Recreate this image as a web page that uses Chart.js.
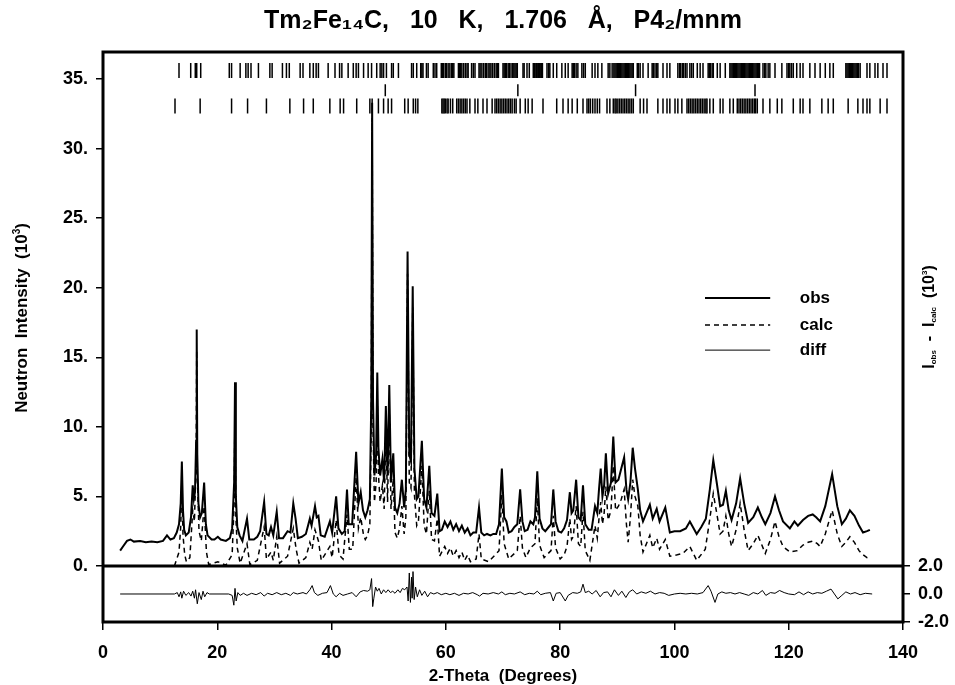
<!DOCTYPE html>
<html>
<head>
<meta charset="utf-8">
<title>Tm2Fe14C neutron pattern</title>
<script src="https://cdn.jsdelivr.net/npm/chart.js@4.4.1/dist/chart.umd.min.js"></script>
<style>
  html, body { margin: 0; padding: 0; background: #fff; }
  #wrap { width: 955px; height: 685px; }
</style>
</head>
<body>
<div id="wrap"><canvas id="pattern"></canvas></div>
<script>
// [2-theta, intensity (10^3)]
const obsPoints = [
  [3.0,1.1],[3.5,1.4],[4.2,1.8],[4.8,1.9],[5.4,1.75],[6.5,1.8],[7.5,1.7],[8.5,1.75],[9.5,1.7],[10.5,1.8],
  [11.2,2.2],[11.8,1.9],[12.4,2.0],[12.9,2.4],[13.3,3.0],[13.6,4.5],[13.8,7.5],[14.0,4.0],[14.2,2.6],[14.5,2.2],
  [15.0,2.4],[15.4,3.5],[15.7,5.8],[15.9,4.8],[16.1,5.3],[16.3,9.0],[16.4,17.0],[16.5,8.0],[16.7,4.5],[17.0,3.5],
  [17.3,3.8],[17.7,6.0],[18.0,3.0],[18.3,2.2],[19.0,1.9],[19.5,1.9],[20.1,2.1],[20.6,1.9],[21.5,1.8],[22.2,2.0],
  [22.6,2.7],[22.95,6.0],[23.1,13.2],[23.25,5.0],[23.5,2.8],[23.9,2.2],[24.4,1.8],[25.2,3.4],[25.6,1.9],[26.4,1.9],
  [27.0,2.1],[27.5,2.5],[28.2,4.6],[28.6,2.3],[29.0,2.2],[29.4,2.8],[29.8,2.2],[30.4,3.9],[30.8,2.0],[31.5,2.0],
  [32.3,2.5],[32.8,2.4],[33.3,4.5],[33.7,3.4],[34.1,2.0],[34.8,2.1],[35.5,2.3],[36.2,3.4],[36.5,2.9],[37.1,4.3],
  [37.4,3.5],[37.7,3.6],[38.1,2.2],[38.8,2.1],[39.7,3.2],[40.1,2.4],[40.8,5.0],[41.2,2.7],[41.8,2.3],[42.3,2.5],
  [42.7,5.5],[43.0,3.0],[43.6,3.0],[44.3,8.2],[44.7,4.5],[45.1,5.3],[45.5,4.0],[45.9,3.5],[46.3,4.0],[46.7,4.8],
  [46.95,12.0],[47.1,33.3],[47.25,12.0],[47.5,6.5],[47.8,8.0],[48.0,13.9],[48.2,8.5],[48.5,6.5],[48.9,7.7],[49.2,6.0],
  [49.5,11.5],[49.8,6.5],[50.1,13.0],[50.4,6.0],[50.8,8.1],[51.1,4.2],[51.5,3.8],[51.9,4.5],[52.3,6.2],[52.7,4.2],
  [53.0,5.5],[53.3,22.6],[53.6,8.0],[53.9,7.5],[54.2,20.1],[54.5,7.0],[54.9,4.8],[55.2,5.0],[55.8,9.0],[56.2,4.8],
  [56.6,4.2],[57.1,7.2],[57.5,3.8],[58.0,3.6],[58.5,5.2],[58.9,2.5],[59.3,2.6],[59.8,3.2],[60.3,2.8],[60.8,3.2],
  [61.3,2.6],[61.8,3.0],[62.3,2.5],[62.8,2.9],[63.3,2.4],[63.8,2.7],[64.3,2.2],[64.8,2.4],[65.3,2.4],[65.8,4.2],
  [66.2,2.4],[66.7,2.2],[67.2,2.3],[67.8,2.2],[68.3,2.3],[68.8,2.3],[69.3,3.0],[69.8,7.0],[70.2,3.5],[70.6,3.2],
  [71.0,2.4],[71.5,2.5],[72.0,2.8],[72.5,3.0],[73.0,5.5],[73.4,3.2],[73.8,2.5],[74.3,2.6],[74.8,3.2],[75.3,3.0],
  [75.6,3.5],[76.0,6.8],[76.4,3.4],[76.9,2.7],[77.4,2.5],[78.0,2.8],[78.4,3.0],[78.8,5.5],[79.2,3.2],[79.7,2.5],
  [80.2,2.4],[80.7,2.7],[81.2,3.3],[81.7,5.3],[82.0,3.8],[82.3,4.0],[82.8,6.2],[83.2,3.5],[83.6,3.3],[84.0,5.8],
  [84.4,3.0],[85.0,2.6],[85.5,2.6],[86.1,4.3],[86.5,3.8],[86.8,5.5],[87.1,7.0],[87.4,5.0],[87.7,5.8],[88.0,8.1],
  [88.4,5.2],[88.9,6.0],[89.3,9.3],[89.7,6.0],[90.2,6.2],[90.7,7.0],[91.2,7.8],[91.6,5.5],[91.9,4.8],[92.3,6.0],
  [92.7,8.5],[93.1,7.0],[93.6,5.5],[94.0,4.0],[94.5,3.2],[95.1,3.8],[95.7,4.4],[96.2,3.4],[96.9,4.1],[97.4,3.2],
  [98.4,4.2],[99.2,2.4],[100.0,2.5],[101.0,2.5],[102.0,2.7],[102.7,3.2],[103.9,2.3],[104.7,2.8],[105.5,3.4],[106.2,5.5],
  [106.8,7.6],[107.4,6.0],[108.0,4.3],[108.5,4.4],[109.0,5.4],[109.5,4.0],[110.0,3.3],[110.8,4.5],[111.5,6.3],[112.2,4.5],
  [112.9,3.1],[113.8,3.5],[114.6,4.2],[115.3,3.5],[115.9,3.0],[116.8,3.8],[117.6,5.0],[118.3,4.0],[119.0,3.2],[120.2,2.7],
  [121.0,3.2],[121.6,2.9],[122.5,3.3],[123.4,3.6],[124.2,3.7],[124.8,3.5],[125.5,3.2],[126.4,4.3],[127.6,6.6],[128.5,4.3],
  [129.3,3.0],[130.0,3.4],[130.7,4.0],[131.5,3.6],[132.3,2.9],[133.0,2.4],[133.7,2.5],[134.2,2.6]
];

const calcPoints = [
  [12.5,0.0],[13.3,1.0],[13.6,2.8],[13.8,5.8],[14.0,2.2],[14.3,0.8],[14.6,0.3],[15.2,0.6],[15.7,4.0],[16.0,3.2],
  [16.3,7.5],[16.4,15.5],[16.5,6.5],[16.8,2.5],[17.2,1.8],[17.7,4.3],[18.1,1.0],[18.5,0.1],[20.1,0.3],[21.5,0.05],
  [22.6,0.8],[22.95,4.5],[23.1,11.5],[23.25,3.5],[23.5,1.3],[24.0,0.2],[25.2,1.6],[25.7,0.1],[27.0,0.4],[28.2,2.8],
  [28.6,0.5],[29.4,1.0],[29.8,0.4],[30.4,2.1],[30.9,0.2],[32.3,0.7],[33.3,2.7],[33.8,1.2],[34.3,0.2],[35.5,0.6],
  [36.2,1.7],[36.6,1.2],[37.1,2.6],[37.7,1.8],[38.2,0.4],[39.7,1.4],[40.1,0.6],[40.8,3.3],[41.3,0.8],[42.0,0.5],
  [42.7,3.7],[43.1,1.2],[43.7,1.2],[44.3,6.4],[44.7,2.7],[45.1,3.5],[45.6,2.2],[45.9,1.9],[46.3,2.2],[46.7,3.0],
  [46.95,10.2],[47.1,32.2],[47.25,10.0],[47.5,4.6],[47.8,6.0],[48.0,12.0],[48.2,6.6],[48.5,4.6],[48.9,5.8],[49.2,4.1],
  [49.5,9.8],[49.8,4.6],[50.1,11.3],[50.4,4.1],[50.8,6.3],[51.1,2.4],[51.5,2.0],[51.9,2.7],[52.3,4.3],[52.7,2.3],
  [53.0,3.5],[53.3,21.0],[53.6,6.0],[53.9,5.6],[54.2,18.6],[54.5,5.1],[54.9,2.9],[55.2,3.2],[55.8,7.2],[56.2,2.9],
  [56.6,2.3],[57.1,5.4],[57.5,1.9],[58.0,1.8],[58.5,3.4],[58.9,0.7],[59.8,1.4],[60.3,0.9],[60.8,1.3],[61.3,0.7],
  [61.8,1.1],[62.3,0.6],[62.8,1.0],[63.3,0.4],[63.8,0.8],[64.3,0.3],[65.3,0.5],[65.8,2.3],[66.2,0.5],[67.5,0.3],
  [69.3,1.1],[69.8,5.1],[70.2,1.6],[71.0,0.5],[72.5,1.1],[73.0,3.6],[73.4,1.3],[74.0,0.6],[74.8,1.3],[75.6,1.6],
  [76.0,4.9],[76.4,1.5],[77.2,0.6],[78.4,1.1],[78.8,3.6],[79.2,1.3],[80.0,0.5],[80.7,0.8],[81.2,1.4],[81.7,3.4],
  [82.0,1.9],[82.3,2.1],[82.8,4.3],[83.2,1.6],[83.6,1.4],[84.0,3.9],[84.4,1.1],[85.2,0.4],[86.1,2.9],[86.5,2.0],
  [86.8,3.4],[87.1,4.6],[87.4,3.0],[87.7,3.8],[88.0,5.7],[88.4,3.3],[88.9,4.0],[89.3,7.2],[89.7,4.0],[90.2,4.3],
  [90.7,4.8],[91.2,5.5],[91.6,3.0],[91.9,1.7],[92.3,3.5],[92.7,6.2],[93.1,5.0],[93.6,4.3],[94.0,2.2],[94.5,1.0],
  [95.1,1.6],[95.7,2.2],[96.2,1.3],[96.9,2.0],[97.4,1.2],[98.4,1.9],[99.2,0.7],[100.5,0.8],[101.5,0.9],[102.7,1.4],
  [103.9,0.4],[105.4,1.2],[106.2,3.4],[106.8,5.2],[107.4,3.8],[108.0,2.3],[108.5,2.5],[109.0,3.6],[109.5,2.3],[110.0,1.4],
  [110.8,2.6],[111.5,4.5],[112.2,2.6],[112.9,1.1],[113.8,1.6],[114.6,2.2],[115.3,1.5],[115.9,0.9],[116.8,1.9],[117.6,3.2],
  [118.3,2.1],[119.0,1.4],[120.2,1.0],[121.5,1.1],[122.5,1.5],[123.4,1.7],[124.3,1.8],[125.0,1.6],[125.5,1.4],[126.4,2.3],
  [127.6,4.0],[128.5,2.3],[129.3,1.4],[130.0,1.7],[130.7,2.1],[131.5,1.7],[132.3,1.1],[133.0,0.8],[133.7,0.6],[134.2,0.7]
];

// I_obs - I_calc (10^3), lower panel
const diffPoints = [
  [3.0,0],[12.5,0],[13.0,0.1],[13.3,-0.2],[13.6,0.15],[13.8,-0.3],[14.1,0.2],[14.5,-0.1],[15.0,0.1],[15.4,-0.15],
  [15.7,0.2],[16.0,-0.3],[16.2,0.3],[16.5,-0.7],[16.8,0.1],[17.2,-0.4],[17.5,0.2],[17.8,-0.2],[18.2,0.1],[18.6,0],
  [22.0,0],[22.6,-0.1],[22.9,-0.8],[23.1,0.4],[23.3,-0.5],[23.6,0.1],[24.0,-0.1],[24.6,0.05],[25.2,-0.1],[26.0,0.05],
  [26.8,-0.05],[27.6,0.1],[28.2,-0.15],[28.8,0.05],[29.6,-0.05],[30.4,0.1],[31.2,-0.05],[32.0,0.05],[32.8,-0.1],[33.3,0.1],
  [34.0,0.0],[35.0,0.1],[35.6,0.0],[36.2,0.3],[36.6,0.6],[37.0,0.1],[37.6,-0.1],[38.4,0.05],[39.2,0.1],[39.8,0.6],
  [40.3,0.0],[40.8,-0.2],[41.4,0.05],[42.0,-0.1],[42.8,0.0],[43.6,0.1],[44.3,-0.2],[45.0,0.15],[45.6,0.25],[46.3,0.2],
  [46.7,0.3],[47.0,1.1],[47.2,-0.9],[47.4,-0.3],[47.7,0.5],[48.0,0.2],[48.3,0.4],[48.7,0.0],[49.1,0.3],[49.5,0.1],
  [49.9,0.3],[50.3,0.1],[50.7,0.2],[51.1,0.05],[51.6,0.3],[52.0,0.1],[52.4,0.4],[52.8,0.3],[53.2,0.5],[53.4,-0.5],
  [53.6,1.5],[53.8,-0.6],[54.0,1.2],[54.1,-0.3],[54.25,1.6],[54.45,-0.4],[54.7,0.5],[55.0,-0.2],[55.4,0.3],[55.8,-0.1],
  [56.3,0.2],[56.8,-0.2],[57.3,0.1],[57.9,0.0],[58.5,0.1],[59.2,-0.05],[60.0,0.05],[60.7,-0.05],[61.5,0.05],[62.3,-0.1],
  [63.1,0.05],[63.9,0.0],[64.7,0.1],[65.5,-0.05],[65.9,-0.15],[66.5,0.05],[67.4,0.0],[68.3,0.1],[69.2,0.0],[69.8,0.15],
  [70.4,-0.05],[71.2,0.05],[72.0,0.0],[73.0,0.15],[73.8,-0.05],[74.6,0.05],[75.4,0.0],[76.0,0.2],[76.6,-0.05],[77.4,0.05],
  [78.3,0.1],[78.8,-0.5],[79.3,0.05],[80.0,0.1],[80.9,-0.5],[81.4,-0.1],[82.2,0.1],[83.0,0.05],[83.6,0.15],[84.0,0.7],
  [84.4,0.1],[85.0,0.2],[85.6,0.0],[86.3,0.25],[87.0,-0.2],[87.6,0.1],[88.3,0.15],[88.9,-0.2],[89.5,0.3],[90.2,-0.1],
  [90.8,0.2],[91.5,-0.25],[92.1,0.15],[92.7,0.3],[93.4,0.0],[94.2,0.15],[95.0,0.05],[95.8,0.2],[96.6,0.0],[97.4,0.1],
  [98.2,0.05],[99.0,-0.1],[100.0,0.0],[101.0,0.05],[102.0,0.0],[103.0,0.05],[104.0,0.0],[105.0,0.1],[105.9,0.6],[106.4,0.2],
  [107.1,-0.6],[107.6,0.0],[108.3,0.15],[109.0,0.05],[109.8,0.1],[110.6,0.0],[111.4,0.1],[112.2,0.0],[113.0,-0.1],[113.8,0.1],
  [114.6,0.0],[115.4,0.25],[116.0,-0.1],[116.8,0.1],[117.6,0.05],[118.4,0.25],[119.2,0.1],[120.0,0.0],[121.0,-0.05],[121.8,0.15],
  [122.6,-0.05],[123.4,0.15],[124.2,0.0],[125.0,0.1],[125.8,0.05],[126.6,0.2],[127.4,0.35],[128.0,0.0],[128.6,-0.35],[129.3,-0.1],
  [130.0,0.15],[130.8,0.0],[131.6,0.1],[132.5,-0.05],[133.4,0.05],[134.6,0.0]
];

// reflection markers (2-theta), three rows at the top
const reflRow1 = [
  13.3,15.35,16.15,16.4,17.1,22.1,22.5,24.0,25.0,25.4,25.9,27.2,29.2,29.6,31.4,32.1,32.6,34.5,35.0,36.2,
  36.8,37.3,37.7,39.4,40.6,41.4,41.8,42.9,43.8,44.3,44.7,45.6,46.4,47.0,47.9,48.5,48.8,49.1,49.6,50.5,
  50.8,51.7,54.0,54.3,54.9,55.6,55.8,56.0,56.6,56.9,57.8,58.1,58.4,59.2,59.4,59.6,59.9,60.1,60.4,60.7,
  61.0,61.2,61.4,62.2,62.4,62.6,62.8,63.1,63.4,63.7,63.9,64.5,64.8,65.1,65.8,66.0,66.3,66.6,66.9,67.1,
  67.4,67.7,67.9,68.2,68.5,68.8,69.0,69.2,70.0,70.2,70.4,70.6,70.9,71.1,71.4,71.7,71.9,72.1,72.3,72.5,
  73.5,73.7,74.2,74.6,75.3,75.5,75.6,75.8,75.9,76.1,76.2,76.4,76.5,76.7,76.9,77.7,78.0,78.2,78.8,79.4,
  80.3,80.9,81.4,82.1,82.3,82.5,82.8,83.1,83.8,84.1,84.4,85.6,86.1,86.6,87.3,88.4,88.7,89.1,89.4,89.6,
  89.8,90.0,90.2,90.4,90.6,90.8,91.0,91.2,91.4,91.6,91.8,92.0,92.2,92.4,92.6,92.8,93.5,93.7,94.0,94.5,
  95.4,96.1,96.3,96.6,96.9,97.1,98.0,98.7,99.2,100.6,100.9,101.1,101.4,101.6,101.9,102.2,102.7,103.0,103.3,104.0,
  104.5,105.0,105.9,106.1,106.3,106.6,106.8,107.5,108.0,108.9,109.7,109.9,110.1,110.3,110.5,110.7,110.9,111.1,111.3,111.5,
  111.7,111.9,112.1,112.3,112.5,112.7,112.9,113.1,113.3,113.5,113.7,113.9,114.1,114.3,114.5,114.7,114.9,115.5,115.8,116.0,
  116.4,116.7,117.6,118.8,119.7,120.0,120.2,120.5,120.8,121.4,122.0,122.5,123.7,124.6,125.5,126.4,127.2,127.8,130.0,130.2,
  130.4,130.6,130.8,131.0,131.2,131.4,131.6,131.8,132.0,132.2,132.5,133.7,134.2,135.1,135.6,136.5,137.2
];
const reflRow2 = [49.4, 72.6, 93.2, 114.1];
const reflRow3 = [
  12.6,17.0,22.5,25.3,28.6,32.7,35.1,36.8,39.7,41.5,42.1,44.4,46.7,47.1,48.2,49.1,49.9,50.5,52.8,53.4,
  54.3,54.7,55.1,59.3,59.5,59.7,59.9,60.2,60.4,60.8,61.2,61.9,62.2,62.5,62.8,63.1,63.4,63.7,64.2,65.1,
  65.6,66.5,67.2,68.1,68.6,68.9,69.2,69.5,69.8,70.1,70.4,70.7,71.0,71.3,71.6,72.0,72.3,73.0,73.9,74.4,
  75.1,77.0,79.4,80.5,81.4,82.1,83.0,84.0,84.7,85.0,85.3,85.7,86.1,86.5,86.9,88.2,88.7,89.3,89.6,89.8,
  90.1,90.4,90.7,91.0,91.3,91.6,91.9,92.2,92.5,92.8,94.0,94.6,95.2,97.1,98.0,98.7,99.2,100.1,100.6,101.3,
  102.2,102.5,102.8,103.1,103.4,103.7,104.0,104.3,104.6,104.9,105.2,105.5,105.7,106.2,106.8,108.0,108.5,109.7,110.3,111.0,
  111.3,111.6,111.9,112.2,112.5,112.8,113.1,113.4,113.7,114.0,114.2,114.5,115.5,116.7,118.0,118.8,120.8,122.0,122.5,123.7,
  125.8,126.9,127.8,130.4,132.1,133.0,133.7,134.2,136.0,137.2
];

const intensityTicks = [0, 5, 10, 15, 20, 25, 30, 35];
const diffTicks = [-2, 0, 2];

const black = '#000';
Chart.defaults.font.family = "'Liberation Sans', Arial, Helvetica, sans-serif";
Chart.defaults.font.weight = 'bold';
Chart.defaults.color = black;

function markerSet(positions, level, half) {
  return {
    label: '',
    data: positions.map(t => ({ x: t, y: level })),
    showLine: false,
    pointStyle: 'line',
    rotation: 90,
    radius: half,
    borderWidth: 1.5,
    borderColor: black,
    yAxisID: 'y'
  };
}

// box + divider between the two panels
const framePlugin = {
  id: 'frame',
  afterDatasetsDraw(chart) {
    const { ctx, chartArea: a, scales } = chart;
    const y0 = scales.y.getPixelForValue(0);
    ctx.save();
    ctx.strokeStyle = black;
    ctx.lineWidth = 3;
    ctx.strokeRect(a.left, a.top, a.right - a.left, a.bottom - a.top);
    ctx.beginPath();
    ctx.moveTo(a.left, y0);
    ctx.lineTo(a.right, y0);
    ctx.stroke();
    ctx.restore();
  }
};

// key inside the plot, drawn from the first three datasets
const keyPlugin = {
  id: 'key',
  afterDatasetsDraw(chart) {
    const { ctx, chartArea: a } = chart;
    const w = a.right - a.left, h = a.bottom - a.top;
    const x1 = a.left + w * 0.7525, x2 = a.left + w * 0.834, xt = a.left + w * 0.871;
    const rows = [0.4316, 0.479, 0.523];
    ctx.save();
    ctx.font = "bold 17px 'Liberation Sans', Arial, sans-serif";
    ctx.textBaseline = 'middle';
    ctx.fillStyle = black;
    chart.data.datasets.slice(0, 3).forEach((ds, i) => {
      const y = a.top + h * rows[i];
      ctx.strokeStyle = black;
      ctx.lineWidth = ds.borderWidth;
      ctx.setLineDash(ds.borderDash || []);
      ctx.beginPath();
      ctx.moveTo(x1, y);
      ctx.lineTo(x2, y);
      ctx.stroke();
      ctx.fillText(ds.label, xt, y);
    });
    ctx.restore();
  }
};

// vertical axis titles (the right one needs sub/superscripts)
function drawRun(ctx, parts, big, small) {
  let total = 0;
  parts.forEach(p => {
    ctx.font = `bold ${p.s ? small : big}px 'Liberation Sans', Arial, sans-serif`;
    p.w = ctx.measureText(p.t).width;
    total += p.w;
  });
  let x = -total / 2;
  parts.forEach(p => {
    ctx.font = `bold ${p.s ? small : big}px 'Liberation Sans', Arial, sans-serif`;
    ctx.fillText(p.t, x, p.dy || 0);
    x += p.w;
  });
}

const axisTitlePlugin = {
  id: 'axisTitles',
  afterDraw(chart) {
    const { ctx, chartArea: a } = chart;
    ctx.save();
    ctx.fillStyle = black;
    ctx.textBaseline = 'middle';
    ctx.translate(a.left - 81, 318);
    ctx.rotate(-Math.PI / 2);
    drawRun(ctx, [{ t: 'Neutron  Intensity  (10' }, { t: '3', s: true, dy: -5 }, { t: ')' }], 17, 10);
    ctx.restore();

    ctx.save();
    ctx.fillStyle = black;
    ctx.textBaseline = 'middle';
    ctx.translate(a.right + 27, 317);
    ctx.rotate(-Math.PI / 2);
    drawRun(ctx, [
      { t: 'I' }, { t: 'obs', s: true, dy: 4 }, { t: '  -  I' }, { t: 'calc', s: true, dy: 4 },
      { t: '  (10' }, { t: '3', s: true, dy: -5 }, { t: ')' }
    ], 16, 8);
    ctx.restore();
  }
};

new Chart(document.getElementById('pattern'), {
  type: 'line',
  data: {
    datasets: [
      { label: 'obs', data: obsPoints.map(([x, y]) => ({ x, y })), borderColor: black, borderWidth: 2, pointRadius: 0, yAxisID: 'y' },
      { label: 'calc', data: calcPoints.map(([x, y]) => ({ x, y })), borderColor: black, borderWidth: 1.5, borderDash: [5, 4], pointRadius: 0, yAxisID: 'y' },
      { label: 'diff', data: diffPoints.map(([x, y]) => ({ x, y })), borderColor: black, borderWidth: 1, pointRadius: 0, yAxisID: 'yDiff' },
      markerSet(reflRow1, 35.62, 7.5),
      markerSet(reflRow2, 34.2, 6),
      markerSet(reflRow3, 33.07, 7.5)
    ]
  },
  options: {
    responsive: true,
    maintainAspectRatio: false,
    animation: false,
    events: [],
    layout: { padding: 0 },
    plugins: {
      legend: { display: false },
      tooltip: { enabled: false },
      title: {
        display: true,
        fullSize: false,
        text: 'Tm₂Fe₁₄C,   10   K,   1.706   Å,   P4₂/mnm',
        color: black,
        font: { size: 25, weight: 'bold', lineHeight: 1.2 },
        padding: { top: 6, bottom: 16 }
      }
    },
    scales: {
      x: {
        type: 'linear', min: 0, max: 140,
        ticks: { stepSize: 20, font: { size: 18 }, padding: 12 },
        grid: { drawOnChartArea: false, tickLength: 8, color: black, lineWidth: 1.5 },
        border: { display: false },
        title: { display: true, text: '2-Theta  (Degrees)', font: { size: 17 }, padding: { top: 0, bottom: -2 } },
        afterFit: s => { s.height = 63; }
      },
      y: {
        position: 'left', min: -4.03, max: 36.95,
        afterBuildTicks: s => { s.ticks = intensityTicks.map(v => ({ value: v })); },
        ticks: { font: { size: 18 }, padding: 8, callback: v => v + '.' },
        grid: { drawOnChartArea: false, tickLength: 7, color: black, lineWidth: 1.5 },
        border: { display: false },
        afterFit: s => { s.width = 103; }
      },
      yDiff: {
        position: 'right', min: -2, max: 38.7,
        afterBuildTicks: s => { s.ticks = diffTicks.map(v => ({ value: v })); },
        ticks: { font: { size: 18 }, padding: 8, callback: v => v.toFixed(1) },
        grid: { drawOnChartArea: false, tickLength: 7, color: black, lineWidth: 1.5 },
        border: { display: false },
        afterFit: s => { s.width = 52; }
      }
    }
  },
  plugins: [framePlugin, keyPlugin, axisTitlePlugin]
});
</script>
</body>
</html>
